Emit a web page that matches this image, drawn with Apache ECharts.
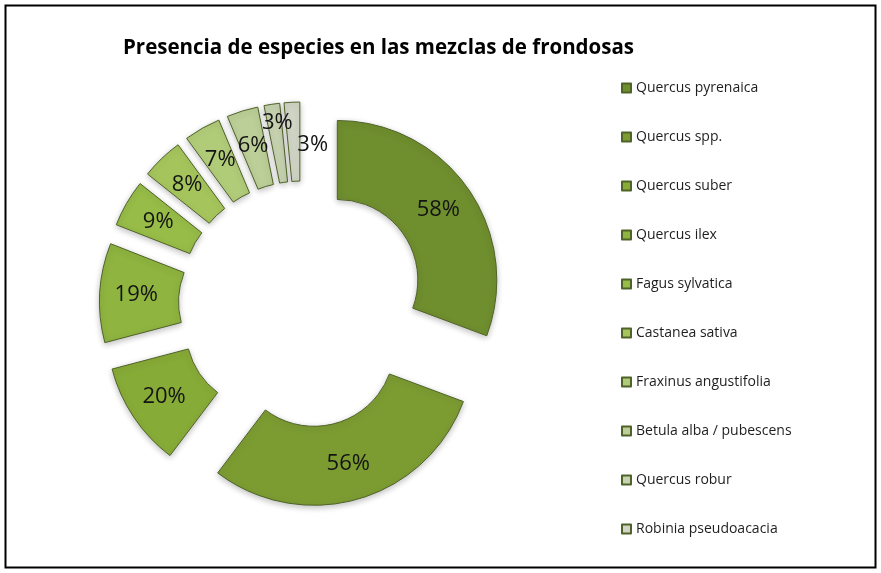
<!DOCTYPE html>
<html>
<head>
<meta charset="utf-8">
<script src="https://cdn.jsdelivr.net/npm/echarts@6/dist/echarts.min.js"></script>
<style>
  html, body { margin: 0; padding: 0; background: #fff; }
  #chart { width: 881px; height: 573px; }
</style>
</head>
<body>
<div id="chart"></div>
<script>
// especies y porcentaje de presencia
const species = [
    'Quercus pyrenaica',
    'Quercus spp.',
    'Quercus suber',
    'Quercus ilex',
    'Fagus sylvatica',
    'Castanea sativa',
    'Fraxinus angustifolia',
    'Betula alba / pubescens',
    'Quercus robur',
    'Robinia pseudoacacia'
];
const presence = [58, 56, 20, 19, 9, 8, 7, 6, 3, 3];
const colors = ['#6f8e2e', '#7c9c32', '#87ab37', '#8fb43f', '#97bc47', '#a5c55c',
    '#b1cc79', '#bccf98', '#c6d2b0', '#d0d5c6'];

let data = [];
for (let i = 0; i < species.length; i++) {
    data.push({
        name: species[i],
        value: presence[i],
        selected: true,
        itemStyle: {color: colors[i]}
    });
}

let myChart = echarts.init(document.getElementById('chart'));
myChart.setOption({
    animation: false,
    title: {
        text: 'Presencia de especies en las mezclas de frondosas',
        left: 118,
        top: 33,
        textStyle: {
            fontFamily: 'Open Sans',
            fontSize: 20.5,
            fontWeight: 'bold',
            color: '#000'
        }
    },
    legend: {
        orient: 'vertical',
        left: 616,
        top: 75,
        itemWidth: 9,
        itemHeight: 9,
        itemGap: 33,
        icon: 'rect',
        selectedMode: false,
        textStyle: {
            fontFamily: 'Open Sans',
            fontSize: 14,
            lineHeight: 16,
            color: '#1e1e1e'
        }
    },
    graphic: [{
        type: 'rect',
        shape: {x: 5.5, y: 5.5, width: 870, height: 562},
        style: {fill: 'none', stroke: '#000', lineWidth: 2}
    }],
    series: [{
        type: 'pie',
        center: [302, 304.5],
        radius: [80.5, 159.5],
        startAngle: 90,
        selectedMode: 'multiple',
        selectedOffset: 43,
        label: {
            position: 'inside',
            formatter: '{c}%',
            fontFamily: 'Open Sans',
            fontSize: 22,
            color: '#141414'
        },
        labelLayout: function (params) {
            // Excel separa las dos etiquetas del 3%
            if (params.dataIndex === 8) return {dy: -18};
            if (params.dataIndex === 9) return {dx: 19, dy: 6};
            return {};
        },
        itemStyle: {
            borderColor: '#4f6228',
            borderWidth: 1,
            shadowBlur: 6,
            shadowColor: 'rgba(0,0,0,0.25)',
            shadowOffsetY: 2
        },
        emphasis: {scale: false},
        select: {itemStyle: {borderColor: '#4f6228', borderWidth: 1}},
        data: data
    }]
});
</script>
</body>
</html>
